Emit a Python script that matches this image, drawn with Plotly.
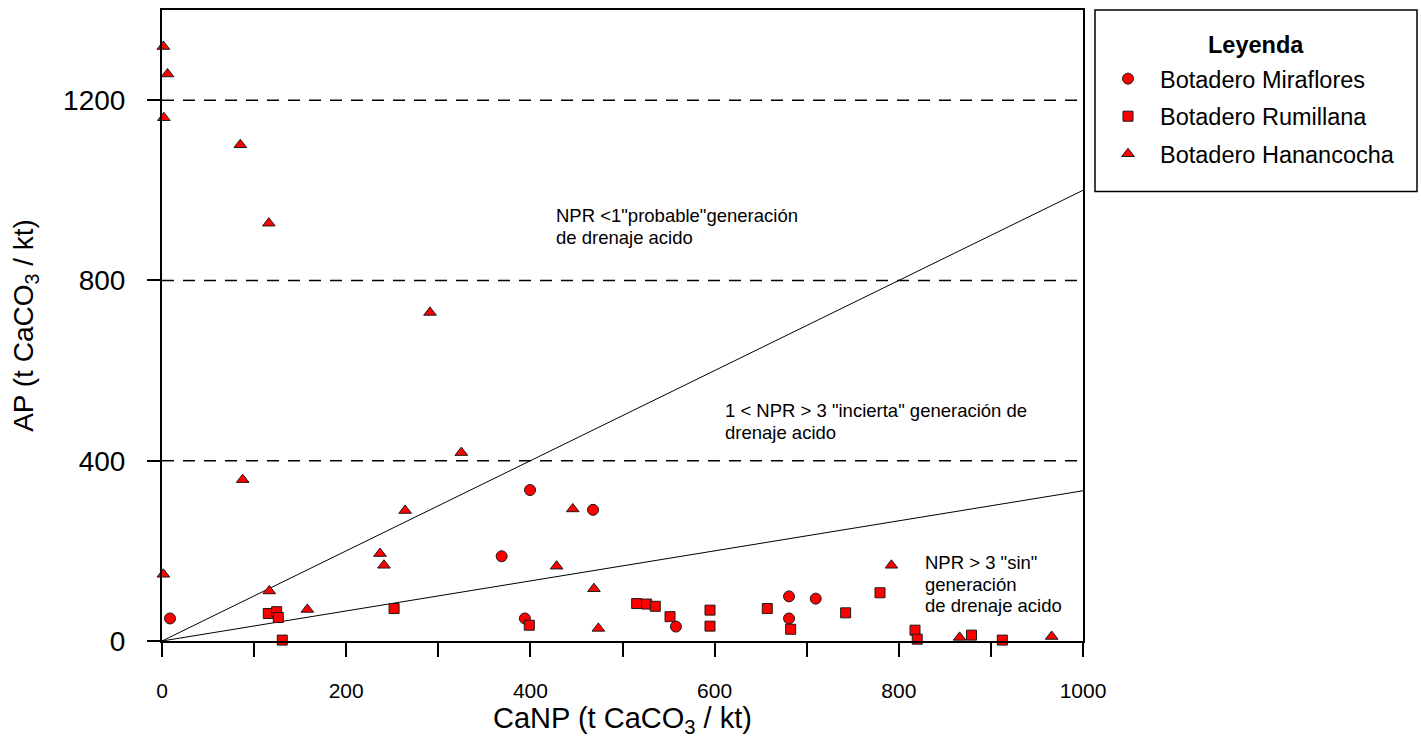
import plotly.graph_objects as go

# CaNP (x) and AP (y) values, t CaCO3 / kt
miraflores_canp = [8.7, 368.8, 394.0, 399.6, 468.0, 558.0, 680.8, 680.8, 709.8]
miraflores_ap = [50, 188, 50, 335, 291, 32, 99, 50, 94]

rumillana_canp = [115.4, 124.5, 126.3, 130.6, 252.0, 398.8, 515.4, 526.2, 535.6, 551.6,
                  595.0, 595.0, 657.2, 682.6, 742.3, 779.6, 817.6, 820.0, 879.0, 912.4]
rumillana_ap = [61, 65, 52, 2, 72, 35, 83, 82, 77, 54,
                68.5, 33, 72, 26, 62.5, 107, 24, 4, 13, 2]

hanancocha_canp = [1.5, 6.0, 2.0, 85.0, 116.0, 291.0, 87.6, 325.0, 264.0, 236.7, 241.0,
                   1.5, 116.5, 157.8, 446.0, 428.5, 469.0, 473.8, 792.0, 866.0, 966.0]
hanancocha_ap = [1319, 1258, 1161, 1101, 927, 729, 358, 418, 289.5, 194, 168,
                 148, 111, 70, 293, 166, 116, 28, 168, 8, 10]

# NPR = CaNP / AP reference lines
npr_ratios = [1, 3]
ref_canp = [0, 1000]

y_ticks = [0, 400, 800, 1200]
y_guides = [400, 800, 1200]

FONT = "Liberation Sans, Arial, Helvetica, sans-serif"
RED = "#FF0000"
EDGE = "#1a1a1a"

# plot-area pixel geometry used for paper-coordinate placement
PL, PR, PT, PB = 162, 1083, 8, 641
PW, PH = PR - PL, PB - PT


def px_x(px):
    return (px - PL) / PW


def px_y(py):
    return (PB - py) / PH


fig = go.Figure()

for r in npr_ratios:
    fig.add_trace(go.Scatter(
        x=ref_canp, y=[v / r for v in ref_canp], mode="lines",
        line=dict(color="black", width=1), showlegend=False, hoverinfo="skip"))

series = [
    ("Botadero Miraflores", miraflores_canp, miraflores_ap, "circle", 11),
    ("Botadero Rumillana", rumillana_canp, rumillana_ap, "square", 10),
    ("Botadero Hanancocha", hanancocha_canp, hanancocha_ap, "triangle-up", 11),
]
for i, (name, xs, ys, sym, sz) in enumerate(series):
    fig.add_trace(go.Scatter(
        x=xs, y=ys, mode="markers", name=name, legendgroup=f"g{i}",
        marker=dict(symbol=sym, size=sz, color=RED, line=dict(color=EDGE, width=1)),
        cliponaxis=False))

for g in y_guides:
    fig.add_shape(type="line", xref="x", yref="y", x0=0, x1=1000, y0=g, y1=g,
                  line=dict(color="black", width=1.5, dash="12px,9px"), layer="below")

# legend frame and heading
fig.add_shape(type="rect", xref="paper", yref="paper",
              x0=px_x(1095), x1=px_x(1417), y0=px_y(190), y1=px_y(8),
              line=dict(color="black", width=1.5), fillcolor="white", layer="below")
fig.add_annotation(xref="paper", yref="paper", x=px_x(1256), y=px_y(43),
                   text="<b>Leyenda</b>", showarrow=False, xanchor="center", yanchor="middle",
                   font=dict(family=FONT, size=23.5, color="black"))

# region labels, one annotation per text line (pixel x, pixel y of line centre)
note_lines = [
    (554, 214, 'NPR &lt;1"probable"generación'),
    (554, 236, 'de drenaje acido'),
    (723, 410, '1 &lt; NPR &gt; 3 "incierta" generación de'),
    (723, 432, 'drenaje acido'),
    (923, 562, 'NPR &gt; 3 "sin"'),
    (923, 584, 'generación'),
    (923, 605, 'de drenaje acido'),
]
for x, y, t in note_lines:
    fig.add_annotation(xref="paper", yref="paper", x=px_x(x), y=px_y(y), text=t,
                       showarrow=False, xanchor="left", yanchor="middle", align="left",
                       font=dict(family=FONT, size=18.5, color="black"))

fig.update_layout(
    width=1421, height=740,
    margin=dict(l=PL, r=1421 - PR, t=PT, b=740 - PB),
    paper_bgcolor="white", plot_bgcolor="white",
    font=dict(family=FONT, color="black"),
    legend=dict(
        x=px_x(1096), y=px_y(55), xanchor="left", yanchor="top",
        bgcolor="rgba(0,0,0,0)", borderwidth=0,
        font=dict(family=FONT, size=23.5), tracegroupgap=4, traceorder="grouped",
        itemsizing="trace", itemwidth=54),
    xaxis=dict(
        range=[0, 1000], tick0=0, dtick=200,
        ticks="outside", ticklen=14, tickwidth=2, tickcolor="black",
        minor=dict(ticks="outside", dtick=100, ticklen=14, tickwidth=2, tickcolor="black"),
        showline=True, linewidth=2, linecolor="black", mirror=True,
        showgrid=False, zeroline=False, ticklabelstandoff=16,
        tickfont=dict(family=FONT, size=21),
        title=dict(text="CaNP (t CaCO<sub>3</sub> / kt)", font=dict(family=FONT, size=29), standoff=3)),
    yaxis=dict(
        range=[0, 1400], tickvals=y_ticks,
        ticks="outside", ticklen=13, tickwidth=2, tickcolor="black",
        showline=True, linewidth=2, linecolor="black", mirror=True,
        showgrid=False, zeroline=False, ticklabelstandoff=16,
        tickfont=dict(family=FONT, size=28),
        title=dict(text="AP (t CaCO<sub>3</sub> / kt)", font=dict(family=FONT, size=28), standoff=21)),
)

fig.write_html("out.html")
